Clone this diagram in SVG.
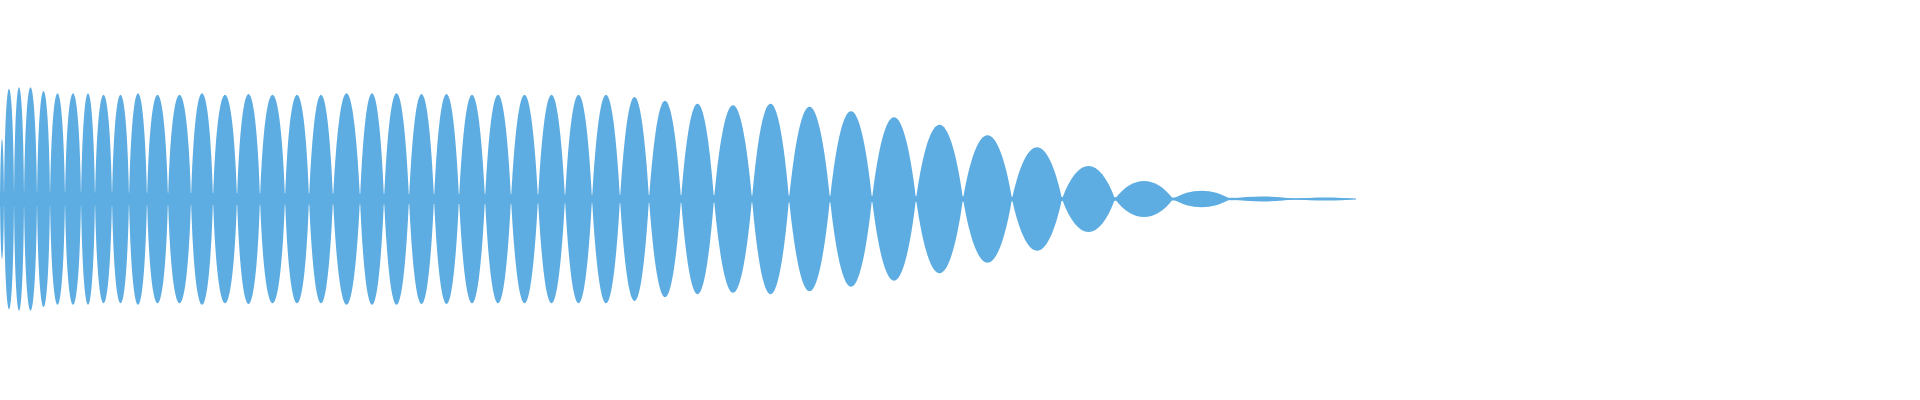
<svg xmlns="http://www.w3.org/2000/svg" width="1920" height="400" viewBox="0 0 1920 400">
<style>.w{fill:#5dade2;stroke:none}</style>
<rect width="1920" height="400" fill="#ffffff"/>
<g id="waveform" class="w">
<polygon points="0,192 900,196 1356,198.5 1356,199.5 900,202 0,206"/>
<path d="M0,199 c0.8,-80 3.2,-80 4,0 c-0.8,80 -3.2,80 -4,0z"/>
<path d="M4,199 c1,-147 9,-147 10,0 c-1,147 -9,147 -10,0z"/>
<path d="M14,199 c1,-149 9,-149 10,0 c-1,149 -9,149 -10,0z"/>
<path d="M24,199 c1.5,-149 11.5,-149 13,0 c-1.5,149 -11.5,149 -13,0z"/>
<path d="M37,199 c1.5,-144 11.5,-144 13,0 c-1.5,144 -11.5,144 -13,0z"/>
<path d="M50,199 c2,-141 13,-141 15,0 c-2,141 -13,141 -15,0z"/>
<path d="M65,199 c2,-141 14,-141 16,0 c-2,141 -14,141 -16,0z"/>
<path d="M81,199 c2,-141 12,-141 14,0 c-2,141 -12,141 -14,0z"/>
<path d="M95,199 c2.5,-139 14.5,-139 17,0 c-2.5,139 -14.5,139 -17,0z"/>
<path d="M112,199 c2.5,-139 14.5,-139 17,0 c-2.5,139 -14.5,139 -17,0z"/>
<path d="M129,199 c3,-141 15,-141 18,0 c-3,141 -15,141 -18,0z"/>
<path d="M147,199 c3.5,-139 17.5,-139 21,0 c-3.5,139 -17.5,139 -21,0z"/>
<path d="M168,199 c4,-139 19,-139 23,0 c-4,139 -19,139 -23,0z"/>
<path d="M191,199 c4,-141 18,-141 22,0 c-4,141 -18,141 -22,0z"/>
<path d="M213,199 c4.5,-139 19.5,-139 24,0 c-4.5,139 -19.5,139 -24,0z"/>
<path d="M237,199 c4.5,-140 18.5,-140 23,0 c-4.5,140 -18.5,140 -23,0z"/>
<path d="M260,199 c5,-139 20,-139 25,0 c-5,139 -20,139 -25,0z"/>
<path d="M285,199 c5,-139 19,-139 24,0 c-5,139 -19,139 -24,0z"/>
<path d="M309,199 c6,-139 18,-139 24,0 c-6,139 -18,139 -24,0z"/>
<path d="M333,199 c7,-141 20,-141 27,0 c-7,141 -20,141 -27,0z"/>
<path d="M360,199 c6,-141 18,-141 24,0 c-6,141 -18,141 -24,0z"/>
<path d="M384,199 c6.5,-141 18.5,-141 25,0 c-6.5,141 -18.5,141 -25,0z"/>
<path d="M409,199 c6.5,-140 18.5,-140 25,0 c-6.5,140 -18.5,140 -25,0z"/>
<path d="M434,199 c6.5,-140 18.5,-140 25,0 c-6.5,140 -18.5,140 -25,0z"/>
<path d="M459,199 c7,-139 19,-139 26,0 c-7,139 -19,139 -26,0z"/>
<path d="M485,199 c7,-139 19,-139 26,0 c-7,139 -19,139 -26,0z"/>
<path d="M511,199 c7.5,-139 19.5,-139 27,0 c-7.5,139 -19.5,139 -27,0z"/>
<path d="M538,199 c7.5,-139 19.5,-139 27,0 c-7.5,139 -19.5,139 -27,0z"/>
<path d="M565,199 c7.5,-139 19.5,-139 27,0 c-7.5,139 -19.5,139 -27,0z"/>
<path d="M592,199 c8,-139 20,-139 28,0 c-8,139 -20,139 -28,0z"/>
<path d="M620,199 c8.5,-136 20.5,-136 29,0 c-8.5,136 -20.5,136 -29,0z"/>
<path d="M649,199 c9.5,-131 22.5,-131 32,0 c-9.5,131 -22.5,131 -32,0z"/>
<path d="M681,199 c10,-127 23,-127 33,0 c-10,127 -23,127 -33,0z"/>
<path d="M714,199 c11.5,-125 26.5,-125 38,0 c-11.5,125 -26.5,125 -38,0z"/>
<path d="M752,199 c11,-127 26,-127 37,0 c-11,127 -26,127 -37,0z"/>
<path d="M789,199 c12.5,-123 28.5,-123 41,0 c-12.5,123 -28.5,123 -41,0z"/>
<path d="M830,199 c12.5,-117 29.5,-117 42,0 c-12.5,117 -29.5,117 -42,0z"/>
<path d="M872,199 c13,-109 31,-109 44,0 c-13,109 -31,109 -44,0z"/>
<path d="M916,199 c14,-99 33,-99 47,0 c-14,99 -33,99 -47,0z"/>
<path d="M963,199 c14.5,-85 34.5,-85 49,0 c-14.5,85 -34.5,85 -49,0z"/>
<path d="M1012,199 c15,-69 35,-69 50,0 c-15,69 -35,69 -50,0z"/>
<path d="M1062,199 c16,-44 37,-44 53,0 c-16,44 -37,44 -53,0z"/>
<path d="M1115,199 c17.5,-24 40.5,-24 58,0 c-17.5,24 -40.5,24 -58,0z"/>
<path d="M1173,199 c17,-11 40,-11 57,0 c-17,11 -40,11 -57,0z"/>
<path d="M1230,199 c19.5,-3.3 45.5,-3.3 65,0 c-19.5,3.3 -45.5,3.3 -65,0z"/>
<path d="M1295,199 c18,-2 43,-2 61,0 c-18,2 -43,2 -61,0z"/>
</g>
</svg>
